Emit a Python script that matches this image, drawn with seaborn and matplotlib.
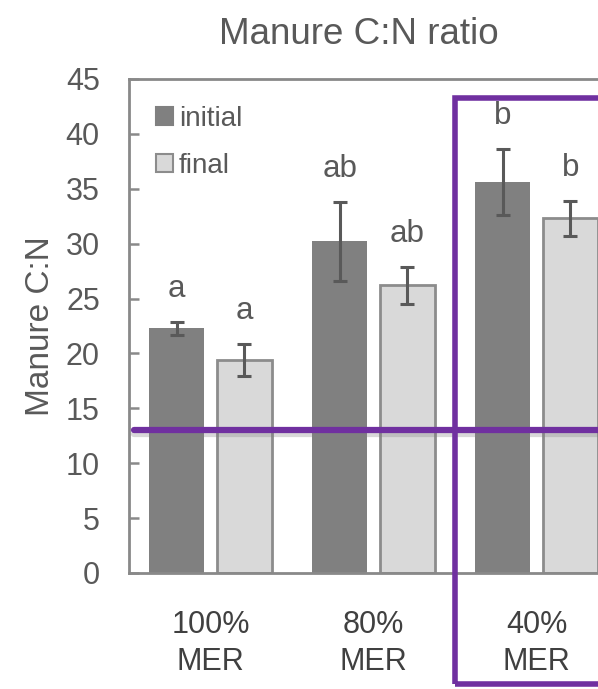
import seaborn as sns
import pandas as pd
import matplotlib.pyplot as plt
import matplotlib.patheffects as pe
from matplotlib.patches import Patch, Rectangle
from matplotlib.container import BarContainer

sns.set_theme(style="white")
plt.rcParams['font.family'] = ['Liberation Sans', 'DejaVu Sans']

# values
treatments = ['100%\nMER', '80%\nMER', '40%\nMER']
stages = ['initial', 'final']
initial_cn = [22.3, 30.2, 35.6]
initial_err = [0.6, 3.6, 3.0]
final_cn = [19.4, 26.2, 32.3]
final_err = [1.5, 1.7, 1.6]
initial_letters = ['a', 'ab', 'b']
final_letters = ['a', 'ab', 'b']
threshold = 13

data = pd.DataFrame({
    'MER': treatments * 2,
    'stage': ['initial'] * 3 + ['final'] * 3,
    'cn': initial_cn + final_cn,
})
errs = [initial_err, final_err]
letters = [initial_letters, final_letters]

text_col = '#595959'
purple = '#7030A0'

fig = plt.figure(figsize=(5.98, 6.89), dpi=100)
ax = fig.add_axes([0.2157, 0.1684, 0.8177, 0.717])

sns.barplot(data=data, x='MER', y='cn', hue='stage', hue_order=stages,
            order=treatments, palette=['#808080', '#D9D9D9'],
            width=0.83, gap=0.19, errorbar=None, legend=False, ax=ax)

bar_groups = [c for c in ax.containers if isinstance(c, BarContainer)]

# error bars + significance letters on top of each bar
for k, cont in enumerate(bar_groups):
    for i, bar in enumerate(cont.patches):
        if k == 1:
            bar.set_edgecolor('#8C8C8C')
            bar.set_linewidth(2)
        else:
            bar.set_edgecolor('none')
        xc = bar.get_x() + bar.get_width() / 2
        h = bar.get_height()
        ax.errorbar(xc, h, yerr=errs[k][i], color='#595959', lw=2.2,
                    capsize=4.8, capthick=2.2, zorder=5)
        ax.annotate(letters[k][i], (xc, h + errs[k][i]), xytext=(0, 18),
                    textcoords='offset points', ha='center', va='baseline',
                    fontsize=22.5, color=text_col)

ax.set_xlim(-0.5, 2.5)
ax.set_ylim(0, 45)
ax.set_yticks(range(0, 46, 5))
ax.set_xlabel('')
ax.set_ylabel('Manure C:N', fontsize=24, color=text_col, labelpad=7)
ax.set_title('Manure C:N ratio', fontsize=26.5, color=text_col, pad=25, x=0.47)

for s in ax.spines.values():
    s.set_color('#898989')
    s.set_linewidth(2)
ax.tick_params(axis='y', direction='in', length=7, width=1.8, color='#898989',
               labelsize=22, labelcolor=text_col, pad=21, left=True)
ax.tick_params(axis='x', length=0, labelsize=22, labelcolor='#404040', pad=27)
for lab in ax.get_xticklabels():
    lab.set_linespacing(1.3)

handles = [Patch(facecolor='#808080', edgecolor='#808080', lw=1.5),
           Patch(facecolor='#D9D9D9', edgecolor='#8C8C8C', lw=1.5)]
ax.legend(handles, stages, loc='upper left', bbox_to_anchor=(0.055, 0.945),
          frameon=False, fontsize=20, handlelength=0.62, handleheight=0.62,
          handletextpad=0.2, labelspacing=0.75, borderpad=0, borderaxespad=0,
          labelcolor=text_col)

# purple highlight shapes
ax.axhline(threshold, xmin=0.01, xmax=1, color=purple, lw=4.5, clip_on=False,
           zorder=6, path_effects=[pe.SimpleLineShadow(offset=(0, -3), shadow_color='gray', alpha=0.3),
                                   pe.Normal()])
ax.add_patch(Rectangle((1.5, -10.1), 2, 53.4, fill=False, edgecolor=purple,
                       lw=4, clip_on=False, zorder=7))

plt.savefig('out.png', dpi=100)
